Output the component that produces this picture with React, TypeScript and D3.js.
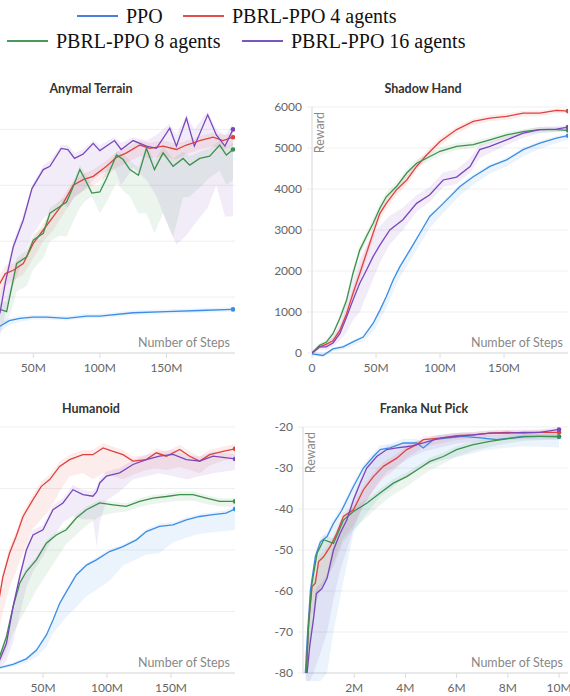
import React from 'react';
import * as d3 from 'd3';

const W = 570;
const H = 696;

const seriesNames = ['PPO', 'PBRL-PPO 4 agents', 'PBRL-PPO 8 agents', 'PBRL-PPO 16 agents'];
const lineColors = ['#3a8ee6', '#e0413f', '#3b914b', '#7a46bd'];
const legendColors = ['#4c7edf', '#e24f4f', '#4a9a5a', '#7b56c2'];

// [step, mean, low, high]
type Pt = [number, number, number, number];

// ---- Anymal Terrain (steps in M)
const anymalPPO: Pt[] = [
  [0, 0.8, 0.3, 1.2], [10, 1.7, 1.2, 2.1], [20, 2.2, 1.6, 2.5], [25, 2.4, 1.9, 2.7], [32, 2.9, 2.5, 3.1],
  [40, 3.1, 2.8, 3.3], [50, 3.2, 3.0, 3.4], [60, 3.2, 3.0, 3.4], [75, 3.1, 2.9, 3.3], [90, 3.3, 3.1, 3.5],
  [100, 3.3, 3.1, 3.5], [125, 3.6, 3.4, 3.8], [150, 3.7, 3.5, 3.9], [175, 3.8, 3.6, 4.0], [200, 3.9, 3.7, 4.1],
];
const anymal4: Pt[] = [
  [0, 0.5, 0.2, 1.0], [10, 2.5, 1.5, 3.5], [20, 5, 3.5, 6], [25, 6.25, 5, 7], [29, 7.1, 6, 7.8], [35, 7.4, 6.5, 8],
  [42.5, 8.0, 7, 8.6], [50, 9.8, 8.5, 10.3], [57.5, 11.0, 10, 11.6], [65, 12.2, 11, 12.8], [72.5, 13.4, 12.4, 14],
  [80, 15.0, 13.8, 15.4], [87.5, 15.5, 14.5, 16], [95, 15.8, 15, 16.4], [105, 16.7, 15.8, 17.2], [112.5, 17.5, 16.6, 18],
  [120, 17.9, 17, 18.4], [130, 18.6, 17.6, 19], [137.5, 18.3, 17.4, 18.8], [147.5, 18.5, 17.6, 19], [157.5, 18.2, 17.3, 18.7],
  [165, 18.6, 17.8, 19], [175, 19.0, 18.2, 19.4], [185, 19.3, 18.5, 19.7], [192.5, 19.0, 18.2, 19.5], [200, 19.3, 18.6, 19.6],
];
const anymal8: Pt[] = [
  [0, 0.5, 0.2, 1], [10, 1.5, 1, 2.5], [20, 3.2, 2.2, 4], [25, 3.9, 2.8, 4.5], [30, 3.7, 2.6, 4.6], [34, 6.0, 4, 6.5],
  [37.5, 8.0, 5.5, 8.5], [45, 8.6, 6, 9.2], [50, 10.1, 7.5, 10.6], [57.5, 10.7, 8.5, 11.2], [62.5, 12.5, 10, 13],
  [70, 13.1, 10.5, 13.6], [75, 13.5, 10.4, 14], [79, 14.6, 11.5, 15], [85, 16.4, 13, 16.8], [89, 15.5, 13.6, 16],
  [94, 14.3, 14, 15], [100, 14.4, 12.5, 15], [105, 15.6, 13.5, 16.4], [112.5, 17.7, 15.2, 18], [117.5, 17.3, 14.5, 17.8],
  [122.5, 16.4, 14, 17.2], [129, 15.9, 12.5, 16.6], [135, 18.3, 12.5, 18.6], [141, 16.4, 10.7, 17.2], [147.5, 17.9, 12.5, 18.5],
  [155, 16.7, 10.4, 17.4], [162.5, 17.4, 13.9, 18], [167.5, 16.8, 14, 17.6], [175, 17.4, 14.8, 18], [182.5, 17.6, 15.7, 18.3],
  [190, 18.6, 16.3, 19], [195, 17.7, 15, 18.4], [200, 18.2, 15.5, 18.8],
];
const anymal16: Pt[] = [
  [0, 0.3, 0, 1], [10, 1.2, 0.3, 2.2], [20, 2.5, 1, 4], [25, 3.6, 1.5, 5], [29, 6.3, 3.5, 7], [35, 9.5, 6, 10],
  [42.5, 11.9, 8.5, 12.4], [49, 14.7, 10.5, 15], [57.5, 16.4, 12, 16.8], [62.5, 16.7, 12.5, 17.2], [71, 18.3, 13.5, 18.6],
  [76, 18.2, 13, 18.6], [81, 17.4, 14, 17.9], [87.5, 17.8, 14.5, 18.2], [95, 18.75, 15.5, 19], [100, 18.1, 16, 18.6],
  [111, 19.0, 16.5, 19.3], [116, 18.2, 15, 18.8], [125, 19.0, 16.6, 19.3], [135, 18.5, 15.5, 19], [142.5, 18.3, 14, 19.5],
  [152.5, 20.1, 11, 20.5], [157.5, 18.5, 9.7, 19.5], [165, 21.0, 10.5, 21.3], [171, 18.5, 11.5, 20], [181, 21.3, 13, 21.6],
  [187.5, 19.5, 15, 20], [194, 18.5, 12.2, 19.5], [200, 20.0, 12.2, 20.5],
];

// ---- Shadow Hand
const shadowPPO: Pt[] = [
  [0, -20, -60, 20], [8.6, -60, -100, -20], [16.4, 100, 40, 140], [24.3, 150, 80, 190], [32, 270, 180, 310],
  [40, 390, 280, 430], [47.7, 720, 520, 760], [53, 1040, 800, 1090], [58, 1370, 1100, 1420], [63.4, 1780, 1500, 1830],
  [68.6, 2100, 1850, 2150], [76.5, 2510, 2250, 2560], [84.3, 2920, 2650, 2970], [92, 3330, 3050, 3380], [100, 3570, 3330, 3620],
  [108, 3820, 3600, 3870], [115.6, 4060, 3850, 4110], [126, 4300, 4100, 4350], [139, 4550, 4380, 4600], [152, 4710, 4550, 4760],
  [165, 4960, 4800, 5010], [178, 5120, 4980, 5170], [191, 5240, 5120, 5290], [200, 5300, 5200, 5340],
];
const shadow4: Pt[] = [
  [0, 0, -40, 40], [6, 150, 100, 200], [11, 210, 150, 270], [16.4, 300, 220, 380], [21.7, 550, 450, 650], [27, 960, 830, 1090],
  [32, 1450, 1300, 1600], [37.3, 1940, 1780, 2100], [42.5, 2430, 2260, 2600], [47.7, 2920, 2750, 3080], [53, 3400, 3250, 3550],
  [58, 3650, 3500, 3800], [66, 3980, 3850, 4100], [74, 4220, 4100, 4330], [81.7, 4550, 4450, 4650], [89.5, 4830, 4730, 4930],
  [100, 5160, 5060, 5250], [113, 5450, 5350, 5530], [126, 5650, 5560, 5720], [139, 5730, 5650, 5800], [152, 5770, 5690, 5840],
  [165, 5850, 5770, 5910], [178, 5850, 5780, 5910], [191, 5920, 5850, 5970], [200, 5900, 5840, 5950],
];
const shadow8: Pt[] = [
  [0, 0, -40, 40], [6, 190, 140, 240], [11, 260, 200, 320], [16.4, 470, 400, 540], [21.7, 840, 750, 930], [27, 1290, 1180, 1400],
  [32, 1940, 1800, 2060], [37.3, 2510, 2380, 2620], [42.5, 2840, 2700, 2950], [47.7, 3160, 3030, 3280], [53, 3530, 3400, 3640],
  [58, 3810, 3700, 3920], [66, 4060, 3950, 4160], [74, 4390, 4280, 4480], [81.7, 4630, 4520, 4720], [89.5, 4750, 4650, 4850],
  [100, 4920, 4820, 5010], [113, 5040, 4950, 5120], [126, 5080, 5000, 5160], [139, 5200, 5120, 5270], [152, 5320, 5240, 5390],
  [165, 5400, 5330, 5460], [178, 5450, 5380, 5510], [191, 5450, 5390, 5510], [200, 5430, 5380, 5480],
];
const shadow16: Pt[] = [
  [0, 0, -40, 40], [6, 150, 80, 220], [11, 150, 80, 260], [16.4, 245, 150, 400], [21.7, 470, 300, 700], [27, 880, 500, 1300],
  [32, 1290, 800, 1800], [37.3, 1700, 1000, 2300], [42.5, 2020, 1400, 2600], [47.7, 2350, 1800, 2900], [53, 2630, 2200, 3100],
  [60.8, 3000, 2650, 3350], [71, 3250, 3000, 3550], [81.7, 3650, 3450, 3850], [92, 3860, 3680, 4050], [102.5, 4220, 4050, 4400],
  [113, 4290, 4130, 4480], [123.5, 4550, 4400, 4750], [131, 4960, 4750, 5080], [139, 5040, 4880, 5150], [152, 5200, 5070, 5300],
  [165, 5360, 5250, 5440], [178, 5450, 5360, 5520], [191, 5460, 5390, 5530], [200, 5510, 5440, 5560],
];

// ---- Humanoid
const humanPPO: Pt[] = [
  [0, 0, -40, 40], [8, 80, 40, 120], [16, 170, 120, 220], [26.6, 280, 200, 330], [37, 460, 330, 510], [44.8, 740, 520, 800],
  [52.6, 1230, 850, 1290], [57.8, 1720, 1300, 1790], [63, 2260, 1550, 2330], [68.2, 2640, 1830, 2720], [76, 3190, 2150, 3260],
  [84, 3510, 2500, 3580], [91.7, 3680, 2700, 3760], [102, 3950, 3000, 4030], [112.5, 4110, 3500, 4190], [123, 4330, 3700, 4410],
  [130.7, 4600, 3850, 4680], [141, 4770, 3900, 4850], [151.6, 4820, 4250, 4900], [162, 4980, 4400, 5060], [172.4, 5090, 4530, 5170],
  [182.8, 5150, 4580, 5230], [193, 5200, 4620, 5290], [200, 5330, 4650, 5420],
];
const human4: Pt[] = [
  [0, 200, 100, 300], [8, 1200, 700, 1500], [16, 2480, 1500, 2700], [18.7, 3130, 2000, 3300], [23.9, 3900, 2800, 4100],
  [29, 4440, 3300, 4600], [34.4, 5090, 3900, 5250], [42.2, 5640, 4700, 5800], [48.7, 6070, 5000, 6230], [55.2, 6290, 5300, 6450],
  [63, 6720, 5900, 6870], [70.8, 6940, 6400, 7100], [81.2, 7100, 6500, 7250], [89, 7100, 6300, 7250], [96.9, 7320, 6500, 7470],
  [104.7, 7210, 6400, 7360], [112.5, 7100, 6300, 7250], [120.3, 6890, 6450, 7040], [130.7, 6940, 6600, 7090], [138.5, 7160, 6650, 7310],
  [146.4, 7050, 6600, 7200], [156.8, 7270, 6700, 7420], [164.6, 7050, 6600, 7200], [172.4, 6890, 6500, 7040], [180.2, 7100, 6750, 7250],
  [190.6, 7210, 6900, 7360], [200, 7290, 7000, 7440],
];
const human8: Pt[] = [
  [0, 100, 50, 150], [8, 300, 150, 380], [16, 520, 300, 600], [21.4, 1180, 700, 1280], [26.6, 2150, 1300, 2250],
  [31.8, 2920, 1700, 3020], [37, 3300, 2100, 3400], [44.8, 3680, 2700, 3780], [52.6, 4220, 3200, 4320], [60.4, 4490, 3700, 4590],
  [68.2, 4660, 4200, 4760], [76, 5040, 4500, 5140], [83.9, 5310, 4800, 5410], [94.3, 5530, 5100, 5630], [104.7, 5470, 5200, 5570],
  [115, 5420, 5250, 5520], [125.5, 5580, 5400, 5680], [135.9, 5690, 5500, 5790], [146.4, 5740, 5550, 5840], [156.8, 5800, 5600, 5900],
  [167.2, 5800, 5600, 5900], [177.6, 5690, 5500, 5790], [188, 5580, 5420, 5680], [200, 5580, 5400, 5680],
];
const human16: Pt[] = [
  [0, 50, 0, 100], [8, 150, 50, 250], [16, 410, 150, 550], [21.4, 960, 400, 1100], [26.6, 2150, 1000, 2300],
  [31.8, 3130, 1900, 3280], [37, 4000, 2800, 4150], [42.2, 4490, 3300, 4640], [50, 4660, 3800, 4810], [57.8, 5310, 4400, 5460],
  [65.6, 5530, 4900, 5680], [73.4, 5960, 5100, 6110], [81.2, 5800, 5000, 5950], [89, 5750, 5000, 5900], [92, 5900, 4100, 6050],
  [94.3, 6180, 4900, 6330], [99.5, 6400, 5600, 6550], [109.9, 6510, 5900, 6660], [120.3, 6780, 6300, 6930], [130.7, 6940, 6400, 7090],
  [141, 7050, 6500, 7200], [151.6, 7110, 6400, 7260], [162, 6940, 6300, 7090], [172.4, 6890, 6400, 7040], [182.8, 7050, 6500, 7200],
  [200, 6960, 6600, 7110],
];

// ---- Franka Nut Pick
const frankaPPO: Pt[] = [
  [0.09, -80, -82, -79], [0.16, -72, -82, -71], [0.29, -59.8, -82, -59], [0.48, -51.6, -82, -50.6], [0.68, -48, -82, -47],
  [0.94, -46.7, -80, -45.7], [1.19, -43.5, -70, -42.5], [1.5, -40.5, -60, -39.5], [1.97, -34.5, -45.9, -33.5], [2.36, -30, -42, -29],
  [2.75, -27.2, -39, -26.2], [3.01, -25.5, -37, -24.5], [3.4, -25.1, -35.3, -24.1], [3.92, -23.9, -32.5, -22.9], [4.44, -23.9, -30.5, -22.9],
  [4.7, -25.1, -29.6, -24.1], [5.09, -23.1, -28.8, -22.1], [5.61, -22.7, -27.8, -21.7], [6.26, -22.3, -27, -21.3], [7.04, -22.7, -25.8, -21.7],
  [7.56, -23.1, -25.3, -22.1], [8.08, -22.7, -25, -21.7], [8.6, -22.3, -24.7, -21.3], [9.25, -22.3, -24.8, -21.3], [10, -22.4, -25, -21.4],
];
const franka4: Pt[] = [
  [0.13, -80, -82, -78], [0.22, -67.9, -75, -66], [0.35, -59, -66, -57.5], [0.48, -58.1, -64, -56.5], [0.61, -52.8, -60, -51.5],
  [0.81, -51.6, -58, -50.3], [1.06, -49.2, -55, -48], [1.32, -45.9, -51, -44.8], [1.58, -41.8, -47, -40.8], [1.97, -40.2, -44, -39.2],
  [2.36, -35.3, -39, -34.3], [2.75, -32.1, -35.5, -31.1], [3.14, -29.6, -32.5, -28.6], [3.66, -27.6, -30, -26.6], [4.05, -25.5, -27.5, -24.6],
  [4.44, -24.3, -26, -23.4], [4.7, -23.1, -24.8, -22.3], [5.35, -22.7, -24, -22], [6, -22.1, -23.2, -21.4], [6.65, -21.9, -22.8, -21.2],
  [7.3, -21.5, -22.4, -20.9], [7.95, -21.3, -22.2, -20.7], [8.6, -21.5, -22.3, -20.9], [9.25, -21.3, -22.1, -20.7], [10, -21.3, -22, -20.7],
];
const franka8: Pt[] = [
  [0.13, -80, -82, -78], [0.22, -68, -78, -66], [0.35, -58.1, -70, -56.5], [0.55, -50.8, -62, -49.5], [0.81, -47.5, -58, -46.3],
  [1.19, -48.4, -54, -47.2], [1.58, -42.7, -48, -41.6], [1.97, -40.6, -45, -39.6], [2.49, -38.6, -42, -37.6], [3.01, -36.1, -39, -35.1],
  [3.53, -33.7, -36.5, -32.7], [4.05, -32.1, -34.5, -31.1], [4.57, -30, -32.2, -29], [4.96, -28.4, -30.5, -27.5], [5.48, -27.2, -29, -26.3],
  [6, -25.5, -27.2, -24.7], [6.65, -24.3, -25.8, -23.5], [7.3, -23.5, -24.8, -22.8], [7.95, -22.9, -24, -22.2], [8.6, -22.4, -23.4, -21.8],
  [9.25, -22.3, -23.2, -21.7], [10, -22.3, -23.1, -21.7],
];
const franka16: Pt[] = [
  [0.16, -80, -82, -78], [0.26, -73.6, -82, -71], [0.42, -66.3, -80, -64.5], [0.52, -60.6, -78, -59], [0.74, -59.4, -74, -58],
  [0.94, -56.9, -70, -55.6], [1.19, -50, -62, -48.8], [1.45, -45.9, -55, -44.8], [1.71, -42.7, -50, -41.6], [1.97, -37.8, -45, -36.8],
  [2.23, -33.7, -41, -32.7], [2.49, -30, -38, -29], [2.88, -27.2, -34, -26.2], [3.27, -25.5, -31, -24.6], [3.66, -25.1, -29.5, -24.2],
  [4.18, -24.7, -27.5, -23.8], [4.7, -23.9, -26, -23], [5.35, -22.7, -25, -21.9], [6, -22.3, -24, -21.5], [6.65, -21.9, -23.6, -21.2],
  [7.3, -21.5, -23.3, -20.8], [7.95, -21.5, -23.2, -20.8], [8.6, -21.3, -23, -20.6], [9.25, -21.3, -23, -20.6], [10, -20.6, -23, -20],
];

const stepTicks200 = [0, 50, 100, 150];
const stepTicks10 = [2, 4, 6, 8, 10];
const anymalYTicks = [0, 5, 10, 15, 20];
const shadowYTicks = [0, 1000, 2000, 3000, 4000, 5000, 6000];
const humanYTicks = [0, 2000, 4000, 6000, 8000];
const frankaYTicks = [-80, -70, -60, -50, -40, -30, -20];

const panels = [
  {
    id: 'anymal', title: 'Anymal Terrain', series: [anymalPPO, anymal4, anymal8, anymal16],
    xMax: 201.5, xTicks: stepTicks200, yDomain: [0, 22], yTicks: anymalYTicks,
    left: -33.3, right: 235, top: 107, bottom: 353, titleX: 91,
  },
  {
    id: 'shadow', title: 'Shadow Hand', series: [shadowPPO, shadow4, shadow8, shadow16],
    xMax: 200, xTicks: stepTicks200, yDomain: [0, 6000], yTicks: shadowYTicks,
    left: 312, right: 568, top: 107, bottom: 353, titleX: 423,
  },
  {
    id: 'human', title: 'Humanoid', series: [humanPPO, human4, human8, human16],
    xMax: 200, xTicks: stepTicks200, yDomain: [0, 8000], yTicks: humanYTicks,
    left: -21, right: 235, top: 427, bottom: 673, titleX: 91,
  },
  {
    id: 'franka', title: 'Franka Nut Pick', series: [frankaPPO, franka4, franka8, franka16],
    xMax: 10.35, xTicks: stepTicks10, yDomain: [-80, -20], yTicks: frankaYTicks,
    left: 303, right: 568, top: 427, bottom: 673, titleX: 424,
  },
];

const uiFont = 'Lato, "Noto Sans", sans-serif';

function Panel({ p }: { p: typeof panels[number] }) {
  const x = d3.scaleLinear().domain([0, p.xMax]).range([p.left, p.right]);
  const y = d3.scaleLinear().domain(p.yDomain).range([p.bottom, p.top]);
  const line = d3.line<Pt>().x(d => x(d[0])).y(d => y(d[1]));
  const area = d3.area<Pt>().x(d => x(d[0])).y0(d => y(d[2])).y1(d => y(d[3]));
  const fmtX = (v: number) => (v === 0 ? '0' : `${v}M`);
  // the left column is cropped in the source figure: its y labels sit off the page
  const showYLabels = p.left > 40;
  return (
    <g>
      <defs>
        <clipPath id={`clip-${p.id}`}>
          <rect x={p.left} y={p.top - 10} width={p.right - p.left} height={p.bottom - p.top + 18} />
        </clipPath>
      </defs>
      <text x={p.titleX} y={p.top - 14} textAnchor="middle" fontFamily={uiFont} fontWeight="bold" fontSize={12.5} fill="#333">
        {p.title}
      </text>
      {p.yTicks.map(t => (
        <g key={t}>
          <line x1={p.left - 5} x2={p.right} y1={y(t)} y2={y(t)} stroke="#efefef" />
          {showYLabels && (
            <text x={p.left - 10} y={y(t)} dy="0.35em" textAnchor="end" fontFamily={uiFont} fontSize={12} fill="#666">
              {t}
            </text>
          )}
        </g>
      ))}
      <line x1={p.left} x2={p.left} y1={p.top} y2={p.bottom} stroke="#e4e4e4" strokeWidth={1.5} />
      <line x1={p.left} x2={p.right} y1={p.bottom} y2={p.bottom} stroke="#dcdcdc" strokeWidth={1.2} />
      {p.xTicks.filter(t => x(t) > 10).map(t => (
        <g key={t}>
          <line x1={x(t)} x2={x(t)} y1={p.bottom} y2={p.bottom + 5} stroke="#dcdcdc" />
          <text x={x(t)} y={p.bottom + 19} textAnchor="middle" fontFamily={uiFont} fontSize={12} fill="#666">
            {fmtX(t)}
          </text>
        </g>
      ))}
      {showYLabels && (
        <text transform={`translate(${p.left + 12},${p.top + 5}) rotate(-90)`} textAnchor="end" fontFamily={uiFont} fontSize={12.5} fill="#888">
          Reward
        </text>
      )}
      <text x={p.right - 5} y={p.bottom - 6} textAnchor="end" fontFamily={uiFont} fontSize={12.5} fill="#888">
        Number of Steps
      </text>
      <g clipPath={`url(#clip-${p.id})`}>
        {p.series.map((s, i) => (
          <path key={`a${i}`} d={area(s) ?? ''} fill={lineColors[i]} fillOpacity={0.1} />
        ))}
        {p.series.map((s, i) => (
          <path key={`l${i}`} d={line(s) ?? ''} fill="none" stroke={lineColors[i]} strokeWidth={1.3} />
        ))}
        {p.series.map((s, i) => {
          const last = s[s.length - 1];
          return <circle key={`c${i}`} cx={x(last[0])} cy={y(last[1])} r={2.3} fill={lineColors[i]} />;
        })}
      </g>
    </g>
  );
}

const legendLayout = [
  { x: 77, y: 16 },
  { x: 183, y: 16 },
  { x: 7, y: 41 },
  { x: 242, y: 41 },
];

export default function App() {
  return (
    <svg width={W} height={H} style={{ position: 'absolute', left: 0, top: 0, background: '#fff' }}>
      <rect width={W} height={H} fill="#fff" />
      {seriesNames.map((name, i) => (
        <g key={name} transform={`translate(${legendLayout[i].x},${legendLayout[i].y})`}>
          <line x1={0} x2={41} y1={0} y2={0} stroke={legendColors[i]} strokeWidth={2} />
          <text x={49} y={7} fontFamily='"Liberation Serif", "Times New Roman", serif' fontSize={20} fill="#111">
            {name}
          </text>
        </g>
      ))}
      {panels.map(p => (
        <Panel key={p.id} p={p} />
      ))}
    </svg>
  );
}
